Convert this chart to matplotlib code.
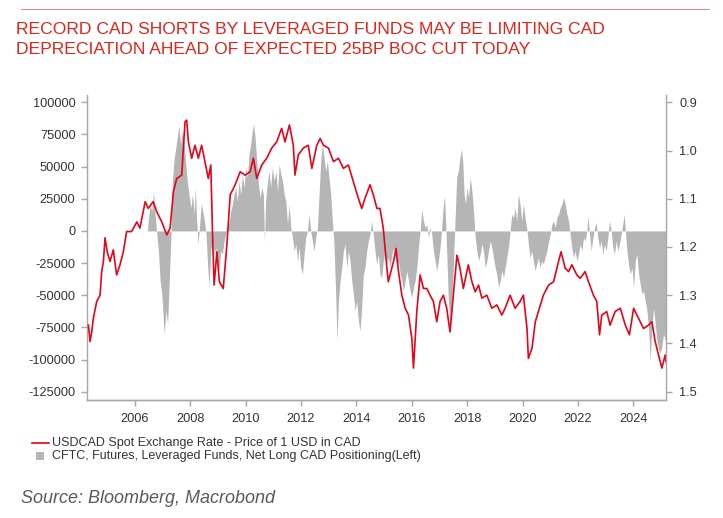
import matplotlib
matplotlib.use("Agg")
import matplotlib.pyplot as plt
from matplotlib.lines import Line2D
from matplotlib.patches import Rectangle
from matplotlib.ticker import FixedLocator, FuncFormatter

plt.rcParams['font.family'] = ['Liberation Sans', 'DejaVu Sans']
plt.rcParams['axes.unicode_minus'] = False

# ---------------- data ----------------
title_lines = ["RECORD CAD SHORTS BY LEVERAGED FUNDS MAY BE LIMITING CAD",
               "DEPRECIATION AHEAD OF EXPECTED 25BP BOC CUT TODAY"]
fx_label = "USDCAD Spot Exchange Rate - Price of 1 USD in CAD"
pos_label = "CFTC, Futures, Leveraged Funds, Net Long CAD Positioning(Left)"
source_text = "Source: Bloomberg, Macrobond"

# USDCAD spot (right axis, inverted), decimal year / rate
fx_dates = [2004.32, 2004.38, 2004.44, 2004.50, 2004.62, 2004.74, 2004.80, 2004.86, 2004.92,
            2005.00, 2005.10, 2005.22, 2005.34, 2005.46, 2005.58, 2005.70, 2005.88, 2006.07,
            2006.18, 2006.37, 2006.48, 2006.66, 2006.79, 2006.97, 2007.15, 2007.27, 2007.39,
            2007.51, 2007.69, 2007.81, 2007.87, 2007.93, 2008.05, 2008.17, 2008.29, 2008.41,
            2008.53, 2008.65, 2008.74, 2008.81, 2008.86, 2008.96, 2009.05, 2009.19, 2009.32,
            2009.44, 2009.62, 2009.80, 2009.98, 2010.16, 2010.28, 2010.40, 2010.58, 2010.76,
            2010.94, 2011.12, 2011.30, 2011.42, 2011.58, 2011.72, 2011.78, 2011.90, 2012.08,
            2012.26, 2012.39, 2012.57, 2012.69, 2012.81, 2012.99, 2013.17, 2013.35, 2013.53,
            2013.71, 2013.89, 2014.07, 2014.19, 2014.31, 2014.49, 2014.61, 2014.74, 2014.85,
            2014.97, 2015.10, 2015.15, 2015.34, 2015.43, 2015.52, 2015.64, 2015.76, 2015.88,
            2016.00, 2016.06, 2016.18, 2016.30, 2016.42, 2016.54, 2016.66, 2016.78, 2016.90,
            2017.02, 2017.14, 2017.26, 2017.38, 2017.50, 2017.63, 2017.74, 2017.86, 2018.04,
            2018.17, 2018.29, 2018.41, 2018.53, 2018.71, 2018.89, 2019.07, 2019.25, 2019.37,
            2019.55, 2019.73, 2019.91, 2020.03, 2020.16, 2020.21, 2020.34, 2020.46, 2020.57,
            2020.75, 2020.94, 2021.12, 2021.30, 2021.39, 2021.54, 2021.66, 2021.78, 2021.96,
            2022.08, 2022.26, 2022.38, 2022.56, 2022.68, 2022.78, 2022.86, 2023.04, 2023.16,
            2023.34, 2023.53, 2023.71, 2023.86, 2024.01, 2024.19, 2024.37, 2024.55, 2024.67,
            2024.79, 2024.91, 2025.03, 2025.15, 2025.18]
fx_rates = [1.362, 1.396, 1.376, 1.347, 1.313, 1.300, 1.251, 1.231, 1.181,
            1.210, 1.230, 1.206, 1.258, 1.237, 1.210, 1.168, 1.168, 1.148,
            1.161, 1.106, 1.120, 1.106, 1.127, 1.148, 1.175, 1.161, 1.085,
            1.058, 1.051, 0.940, 0.937, 0.982, 1.016, 0.989, 1.016, 0.989,
            1.023, 1.058, 1.030, 1.189, 1.279, 1.210, 1.272, 1.286, 1.196,
            1.092, 1.071, 1.044, 1.051, 1.044, 1.016, 1.058, 1.030, 1.016,
            0.995, 0.982, 0.954, 0.982, 0.947, 0.989, 1.051, 1.009, 0.995,
            0.989, 1.037, 0.989, 0.975, 0.989, 0.995, 1.023, 1.016, 1.037,
            1.030, 1.065, 1.099, 1.120, 1.099, 1.071, 1.092, 1.120, 1.120,
            1.161, 1.244, 1.272, 1.230, 1.203, 1.251, 1.300, 1.327, 1.341,
            1.389, 1.451, 1.334, 1.258, 1.286, 1.286, 1.300, 1.313, 1.355,
            1.313, 1.300, 1.327, 1.376, 1.300, 1.217, 1.244, 1.286, 1.237,
            1.272, 1.293, 1.279, 1.306, 1.300, 1.327, 1.320, 1.341, 1.327,
            1.300, 1.327, 1.313, 1.300, 1.369, 1.431, 1.410, 1.355, 1.334,
            1.300, 1.279, 1.272, 1.230, 1.210, 1.244, 1.251, 1.237, 1.258,
            1.265, 1.251, 1.272, 1.300, 1.313, 1.382, 1.341, 1.334, 1.362,
            1.334, 1.327, 1.362, 1.382, 1.327, 1.348, 1.369, 1.362, 1.355,
            1.396, 1.424, 1.451, 1.424, 1.438]

# CFTC leveraged funds net long CAD (left axis, contracts)
pos_dates = [2006.45, 2006.49, 2006.55, 2006.61, 2006.67, 2006.73, 2006.79, 2006.85, 2006.91,
             2006.97, 2007.03, 2007.06, 2007.12, 2007.18, 2007.24, 2007.30, 2007.36, 2007.42,
             2007.48, 2007.54, 2007.59, 2007.65, 2007.71, 2007.77, 2007.83, 2007.89, 2007.95,
             2008.02, 2008.08, 2008.14, 2008.18, 2008.23, 2008.28, 2008.33, 2008.39, 2008.45,
             2008.51, 2008.57, 2008.63, 2008.68, 2008.74, 2008.80, 2008.86, 2008.92, 2008.98,
             2009.04, 2009.10, 2009.16, 2009.22, 2009.28, 2009.34, 2009.40, 2009.46, 2009.52,
             2009.58, 2009.64, 2009.70, 2009.76, 2009.82, 2009.88, 2009.94, 2010.00, 2010.06,
             2010.12, 2010.18, 2010.24, 2010.29, 2010.34, 2010.40, 2010.46, 2010.52, 2010.58,
             2010.64, 2010.68, 2010.72, 2010.78, 2010.84, 2010.90, 2010.96, 2011.03, 2011.09,
             2011.15, 2011.21, 2011.27, 2011.33, 2011.39, 2011.45, 2011.51, 2011.57, 2011.63,
             2011.69, 2011.75, 2011.81, 2011.87, 2011.93, 2011.99, 2012.05, 2012.11, 2012.17,
             2012.23, 2012.29, 2012.35, 2012.41, 2012.47, 2012.53, 2012.59, 2012.65, 2012.71,
             2012.77, 2012.83, 2012.89, 2012.95, 2013.01, 2013.07, 2013.13, 2013.19, 2013.25,
             2013.30, 2013.35, 2013.41, 2013.47, 2013.53, 2013.59, 2013.65, 2013.71, 2013.77,
             2013.83, 2013.89, 2013.95, 2014.01, 2014.07, 2014.13, 2014.19, 2014.25, 2014.31,
             2014.37, 2014.43, 2014.49, 2014.55, 2014.61, 2014.67, 2014.73, 2014.79, 2014.85,
             2014.91, 2014.97, 2015.03, 2015.09, 2015.15, 2015.22, 2015.28, 2015.34, 2015.40,
             2015.46, 2015.52, 2015.58, 2015.64, 2015.70, 2015.76, 2015.82, 2015.88, 2015.94,
             2016.00, 2016.06, 2016.12, 2016.18, 2016.24, 2016.30, 2016.36, 2016.42, 2016.48,
             2016.54, 2016.60, 2016.66, 2016.72, 2016.78, 2016.84, 2016.90, 2016.96, 2017.02,
             2017.08, 2017.14, 2017.18, 2017.23, 2017.28, 2017.32, 2017.38, 2017.44, 2017.50,
             2017.56, 2017.62, 2017.68, 2017.74, 2017.79, 2017.84, 2017.89, 2017.94, 2017.99,
             2018.05, 2018.11, 2018.17, 2018.23, 2018.29, 2018.35, 2018.41, 2018.47, 2018.53,
             2018.59, 2018.65, 2018.71, 2018.77, 2018.83, 2018.89, 2018.95, 2019.01, 2019.07,
             2019.13, 2019.19, 2019.25, 2019.31, 2019.37, 2019.43, 2019.49, 2019.55, 2019.61,
             2019.67, 2019.73, 2019.79, 2019.85, 2019.91, 2019.97, 2020.03, 2020.09, 2020.15,
             2020.21, 2020.27, 2020.33, 2020.39, 2020.45, 2020.51, 2020.57, 2020.63, 2020.69,
             2020.75, 2020.81, 2020.88, 2020.94, 2021.00, 2021.06, 2021.12, 2021.18, 2021.24,
             2021.30, 2021.36, 2021.42, 2021.48, 2021.54, 2021.60, 2021.66, 2021.72, 2021.78,
             2021.84, 2021.90, 2021.96, 2022.02, 2022.08, 2022.14, 2022.20, 2022.26, 2022.32,
             2022.36, 2022.42, 2022.48, 2022.54, 2022.60, 2022.66, 2022.72, 2022.78, 2022.84,
             2022.90, 2022.96, 2023.02, 2023.08, 2023.14, 2023.20, 2023.26, 2023.32, 2023.38,
             2023.44, 2023.50, 2023.56, 2023.62, 2023.67, 2023.72, 2023.77, 2023.83, 2023.89,
             2023.95, 2024.01, 2024.07, 2024.13, 2024.19, 2024.25, 2024.31, 2024.37, 2024.43,
             2024.49, 2024.55, 2024.61, 2024.67, 2024.73, 2024.79, 2024.85, 2024.91, 2024.97,
             2025.03, 2025.09, 2025.15, 2025.18]
pos_values = [0, 10400, 20700, 15500, 31000, 13000, -2600, -15500, -38900,
              -49000, -70000, -80000, -62000, -72500, -39000, -5000, 41000, 57000,
              65000, 75000, 81600, 67000, 78000, 70000, 54000, 39000, 28500,
              18000, 28500, 13000, 33700, 7800, -10400, 2600, 20700, 15500,
              7800, -2600, -28500, -42800, -15500, -7800, -18000, -13000, -23300,
              -31000, -15500, -18000, -7800, -2600, 2600, 7800, 15500, 20700,
              28500, 33700, 23300, 38900, 28500, 44000, 33700, 49000, 41500,
              59600, 67400, 77700, 83000, 72500, 54400, 36300, 26000, 33700,
              28500, -9000, 23300, 36300, 46600, 33700, 49000, 38900, 46600,
              31000, 51800, 44000, 38900, 28500, 23300, 5200, 20700, 2600,
              -5200, -15500, -10400, -23300, -13000, -28500, -33700, -18000, -5200,
              0, 13000, 0, -7800, -15500, -5200, 2600, 28500, 54400,
              67400, 57000, 46600, 54400, 41500, 28500, 7800, -10400, -49000,
              -85500, -54400, -38900, -28500, -15500, -10400, -28500, -15500, -23300,
              -38900, -49000, -62000, -54400, -70000, -77700, -59600, -33700, -28500,
              -15500, -7800, -2600, 7800, -2600, -15500, -26000, -18000, -33700,
              -36300, -23300, -15500, -26000, -20700, -28500, -18000, -13000, -20700,
              -28500, -23300, -33700, -38900, -46600, -38900, -31000, -38900, -46600,
              -51800, -44000, -38900, -28500, -13000, 0, 16800, 7800, 2600,
              5200, -5200, 2600, -2600, -15500, -23300, -31000, -23300, -13000,
              2600, 20700, 27200, 2600, -28500, -54400, -75000, -59600, -28500,
              7800, 41500, 46600, 57000, 63500, 54400, 28500, 20700, 33700,
              26000, 41500, 31000, 15500, -5200, -15500, -23300, -18000, -10400,
              -15500, -28500, -23300, -15500, -7800, -13000, -20700, -28500, -33700,
              -44000, -38900, -31000, -36300, -28500, -20700, -13000, 0, 13000,
              10400, 18000, 7800, 28500, 20700, 7800, 20700, 10400, 2600,
              -10400, -20700, -15500, -23300, -31000, -26000, -20700, -28500, -23300,
              -26000, -20700, -15500, -7800, -2600, 5200, 7800, 2600, 10400,
              13000, 18000, 20700, 26000, 20700, 13000, 7800, -2600, -13000,
              -20700, -15500, -23300, -18000, -10400, -15500, -5200, -7800, 0,
              11700, -2600, -15500, -5200, 2600, 6500, -5200, -13000, -7800,
              -18000, -10400, -15500, -5200, 7800, 0, -13000, -18000, -7800,
              -15500, -10400, -2600, 5200, 13000, -2600, -15500, -26000, -33700,
              -28500, -44000, -23300, -18000, -33700, -41500, -49000, -46600, -54400,
              -62000, -75000, -101000, -75000, -60000, -72000, -85000, -92000, -95000,
              -90000, -80000, -85000, -83000]

left_ticks = [100000, 75000, 50000, 25000, 0, -25000, -50000, -75000, -100000, -125000]
right_ticks = [0.9, 1.0, 1.1, 1.2, 1.3, 1.4, 1.5]
year_ticks = [2006, 2008, 2010, 2012, 2014, 2016, 2018, 2020, 2022, 2024]

# ---------------- style ----------------
W, H = 723, 518
RED = '#e3051b'
GRAY_FILL = '#b5b5b5'
SPINE = '#a8a8a8'
TXT = '#333333'

fig = plt.figure(figsize=(W / 100, H / 100), dpi=100)

def fx(px):
    return px / W

def fy(py):
    return 1 - py / H

ax_l, ax_r, ax_t, ax_b = 87.3, 666.0, 95.0, 400.0
ax = fig.add_axes([fx(ax_l), fy(ax_b), fx(ax_r - ax_l), (ax_b - ax_t) / H])

ax.fill_between(pos_dates, pos_values, 0, color=GRAY_FILL, linewidth=0)
ax.set_xlim(2004.28, 2025.18)
ax.set_ylim(-131450, 105700)

ax2 = ax.twinx()
ax2.plot(fx_dates, fx_rates, color=RED, linewidth=1.2, solid_joinstyle='round')
ax2.set_ylim(1.5172, 0.8849)
ax2.set_xlim(2004.28, 2025.18)

for a in (ax, ax2):
    a.set_facecolor('none')
    a.spines['top'].set_visible(False)
    for s in ('left', 'right', 'bottom'):
        a.spines[s].set_color(SPINE)
        a.spines[s].set_linewidth(1.0)
    a.tick_params(colors=SPINE, labelcolor=TXT, labelsize=9.2, length=4.5, width=1.0)

ax.spines['right'].set_visible(False)
ax2.spines['left'].set_visible(False)

ax.yaxis.set_major_locator(FixedLocator(left_ticks))
ax.yaxis.set_major_formatter(FuncFormatter(lambda v, p: f"{int(round(v))}"))
ax.tick_params(axis='y', pad=4)
ax2.yaxis.set_major_locator(FixedLocator(right_ticks))
ax2.yaxis.set_major_formatter(FuncFormatter(lambda v, p: f"{v:.1f}"))
ax2.tick_params(axis='y', pad=5)
ax.xaxis.set_major_locator(FixedLocator(year_ticks))
ax.xaxis.set_major_formatter(FuncFormatter(lambda v, p: f"{int(round(v))}"))
ax.tick_params(axis='x', pad=5, length=4)

# top thin rule
fig.add_artist(Line2D([fx(21), fx(709)], [fy(9), fy(9)], color='#e8808a', linewidth=0.7))

# title
fig.text(fx(16), fy(22.5), title_lines[0], color='#e2231a',
         fontsize=12.6, va='top', ha='left')
fig.text(fx(16), fy(42.5), title_lines[1], color='#e2231a',
         fontsize=12.6, va='top', ha='left')

# legend
fig.add_artist(Line2D([fx(32), fx(48.5)], [fy(443), fy(443)], color=RED, linewidth=1.2))
fig.text(fx(52), fy(443), fx_label, color=TXT, fontsize=9.0, va='center', ha='left')
fig.add_artist(Rectangle((fx(36), fy(460)), fx(7.5), 8 / H, color=GRAY_FILL, linewidth=0))
fig.text(fx(52), fy(456), pos_label, color=TXT, fontsize=9.0, va='center', ha='left')

# source
fig.text(fx(21), fy(498.5), source_text, color='#5a5a5a', fontsize=13, style='italic',
         va='center', ha='left')

fig.savefig('out.png', dpi=100)
